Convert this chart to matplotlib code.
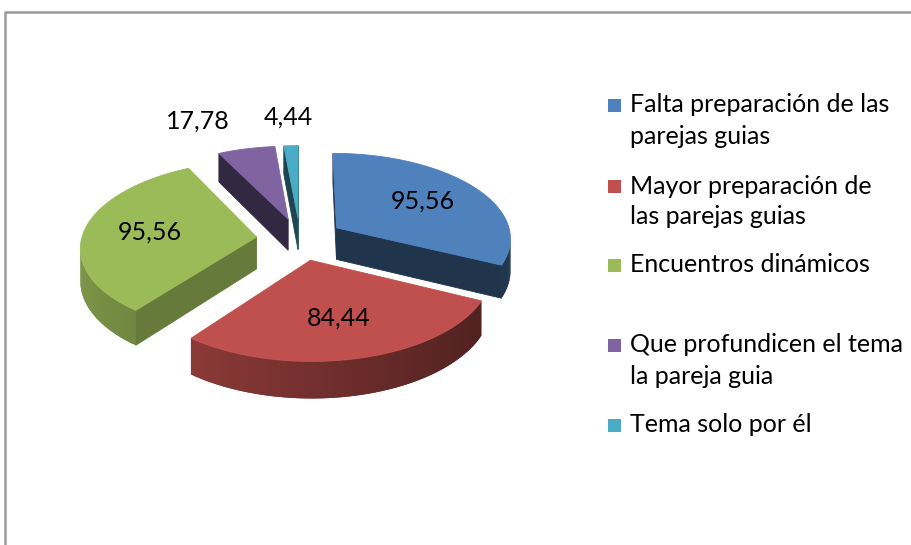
import numpy as np
import matplotlib.pyplot as plt
from matplotlib.patches import Polygon, Rectangle
from matplotlib.colors import to_rgb

# data
categories = ['Falta preparación de las\nparejas guias',
              'Mayor preparación de\nlas parejas guias',
              'Encuentros dinámicos',
              'Que profundicen el tema\nla pareja guia',
              'Tema solo por él']
values = [95.56, 84.44, 95.56, 17.78, 4.44]
colors = ['#4F81BD', '#C0504D', '#9BBB59', '#8064A2', '#4BACC6']

# layout of the fake 3d pie (pixels)
CX, CY = 300, 239
RX, RY = 175, 85
P = 0.11        # perspective
H = 32          # thickness
EXPLODE = 0.25
FONT = ['Lato', 'DejaVu Sans']
FS = 18

plt.rcParams['font.family'] = FONT


def proj(x, z, h=0.0):
    f = 1.0 / (1.0 + P * z)
    return (CX + RX * x * f, CY - RY * z * f + H * h * f)


def area(pts):
    pts = np.array(pts)
    x, y = pts[:, 0], pts[:, 1]
    return np.sum(x * np.roll(y, -1) - np.roll(x, -1) * y)


def shade(c, k):
    return tuple(np.clip(np.array(to_rgb(c)) * k, 0, 1))


fig = plt.figure(figsize=(9.11, 5.45), dpi=100)
ax = fig.add_axes([0, 0, 1, 1])
ax.set_xlim(0, 911)
ax.set_ylim(545, 0)
ax.axis('off')

# chart border (only top and left visible)
ax.plot([5, 5, 915], [550, 12, 12], color='#9A9A9A', lw=1.8, solid_capstyle='butt')

fracs = np.array(values) / sum(values)
bounds = np.concatenate([[0], np.cumsum(fracs)]) * 2 * np.pi
mids = (bounds[:-1] + bounds[1:]) / 2
offx = EXPLODE * np.sin(mids)
offz = EXPLODE * np.cos(mids)

for i in sorted(range(len(values)), key=lambda i: -offz[i]):
    t0, t1 = bounds[i], bounds[i + 1]
    ox, oz = offx[i], offz[i]
    ts = np.linspace(t0, t1, max(3, int(np.degrees(t1 - t0)) + 2))
    rx = ox + np.sin(ts)
    rz = oz + np.cos(ts)
    n = len(ts)

    # outer wall, segments overlap one step so no seams show
    for j in range(n - 1):
        j2 = min(j + 2, n - 1)
        quad = [proj(rx[j], rz[j]), proj(rx[j + 1], rz[j + 1]), proj(rx[j2], rz[j2]),
                proj(rx[j2], rz[j2], 1), proj(rx[j + 1], rz[j + 1], 1), proj(rx[j], rz[j], 1)]
        if area([quad[0], quad[1], quad[4], quad[5]]) < 0:
            tm = (ts[j] + ts[j + 1]) / 2
            c = shade(colors[i], 0.6 - 0.2 * np.sin(tm))
            ax.add_patch(Polygon(quad, closed=True, fc=c, ec='none', lw=0))

    # radial faces
    a_top, a_bot = proj(ox, oz), proj(ox, oz, 1)
    start = [a_top, proj(rx[0], rz[0]), proj(rx[0], rz[0], 1), a_bot]
    end = [a_top, a_bot, proj(rx[-1], rz[-1], 1), proj(rx[-1], rz[-1])]
    for face, nang in ((start, t0 - np.pi / 2), (end, t1 + np.pi / 2)):
        if area(face) < 0:
            k = 0.4 + 0.26 * max(0, np.cos(nang - np.radians(128))) ** 4
            c = shade(colors[i], k)
            ax.add_patch(Polygon(face, closed=True, fc=c, ec=c, lw=0.6))

    # top
    top = [a_top] + [proj(x, z) for x, z in zip(rx, rz)]
    ax.add_patch(Polygon(top, closed=True, fc=colors[i], ec=colors[i], lw=0.6))

    # data label
    lab = f'{values[i]:.2f}'.replace('.', ',')
    if fracs[i] > 0.1:
        r = 0.62
        lx, ly = proj(ox + r * np.sin(mids[i]), oz + r * np.cos(mids[i]))
        ax.text(lx, ly, lab, ha='center', va='center', fontsize=FS)
    else:
        r = 1.45
        lx, ly = proj(ox + r * np.sin(mids[i]), oz + r * np.cos(mids[i]))
        ha = 'right' if np.sin(mids[i]) < -0.1 else 'center'
        ax.text(lx, ly, lab, ha=ha, va='center', fontsize=FS)

# legend
leg_y = [105, 186, 265, 345, 425]
for cat, col, y in zip(categories, colors, leg_y):
    ax.add_patch(Rectangle((608, y - 6.5), 13, 13, fc=col, ec='none'))
    for k, line in enumerate(cat.split('\n')):
        ax.text(630, y + k * 31, line, ha='left', va='center', fontsize=FS)

fig.savefig('out.png', dpi=100)
